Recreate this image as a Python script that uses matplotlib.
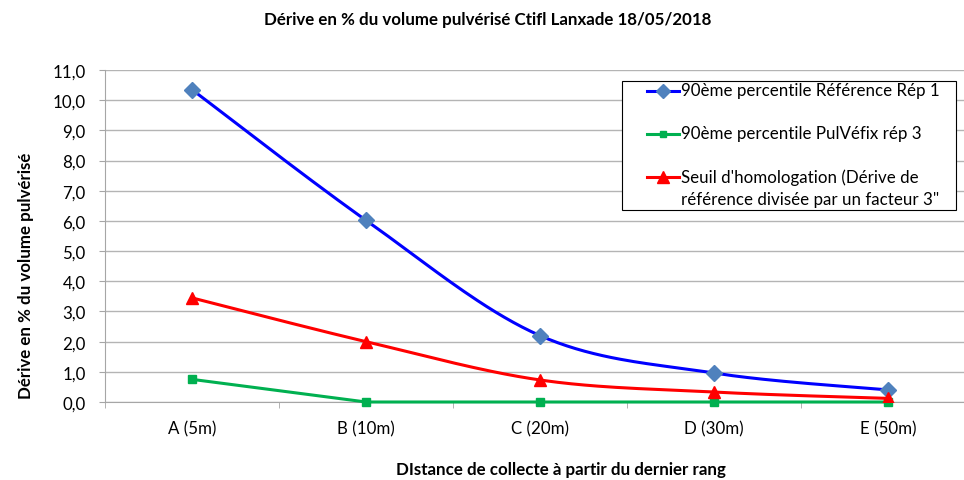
import numpy as np
import matplotlib.pyplot as plt
from matplotlib.lines import Line2D
from matplotlib.patches import Rectangle
from matplotlib.ticker import FixedLocator, FuncFormatter

plt.rcParams['font.family'] = ['Lato', 'DejaVu Sans']

categories = ['A (5m)', 'B (10m)', 'C (20m)', 'D (30m)', 'E (50m)']
ref_rep1 = [10.35, 6.02, 2.2, 0.96, 0.4]
pulvefix_rep3 = [0.75, 0.0, 0.0, 0.0, 0.0]
seuil = [3.45, 2.0, 0.73, 0.33, 0.12]

labels = ['90ème percentile Référence Rép 1',
          '90ème percentile PulVéfix rép 3',
          "Seuil d'homologation (Dérive de\nréférence divisée par un facteur 3\""]

title = 'Dérive en % du volume pulvérisé Ctifl Lanxade 18/05/2018'
xlabel = 'DIstance de collecte à partir du dernier rang'
ylabel = 'Dérive en % du volume pulvérisé'


def smooth(xs, ys, n=40):
    # excel-like smoothed line: bezier through points, catmull-rom controls
    xs = np.asarray(xs, float)
    ys = np.asarray(ys, float)
    px = np.concatenate([[xs[0]], xs, [xs[-1]]])
    py = np.concatenate([[ys[0]], ys, [ys[-1]]])
    t = np.linspace(0, 1, n)
    outx, outy = [], []
    for i in range(len(xs) - 1):
        p0 = np.array([px[i + 1], py[i + 1]])
        p3 = np.array([px[i + 2], py[i + 2]])
        c1 = p0 + (p3 - np.array([px[i], py[i]])) / 6
        c2 = p3 - (np.array([px[i + 3], py[i + 3]]) - p0) / 6
        b = ((1 - t) ** 3)[:, None] * p0 + (3 * (1 - t) ** 2 * t)[:, None] * c1 \
            + (3 * (1 - t) * t ** 2)[:, None] * c2 + (t ** 3)[:, None] * p3
        outx.extend(b[:, 0])
        outy.extend(b[:, 1])
    return outx, outy


fig = plt.figure(figsize=(9.64, 4.81), dpi=100)
ax = fig.add_axes([105 / 964, 78 / 481, 870 / 964, 332 / 481])

x = np.arange(len(categories))

blue = '#0000ff'
green = '#00b050'
red = '#ff0000'
fs = 12.2

sx, sy = smooth(x, ref_rep1)
ax.plot(sx, sy, color=blue, lw=2.2, zorder=3)
ax.plot(x, ref_rep1, ls='none', marker='D', ms=8, color='#4f81bd', zorder=4)

ax.plot(x, pulvefix_rep3, color=green, lw=2.2, marker='s', ms=5.5, zorder=3,
        clip_on=False)

sx, sy = smooth(x, seuil)
ax.plot(sx, sy, color=red, lw=2.2, zorder=3)
ax.plot(x, seuil, ls='none', marker='^', ms=8.5, color=red, zorder=4)

ax.set_xlim(-0.5, len(categories) - 0.5)
ax.set_ylim(0, 11)
ax.set_yticks(np.arange(0, 12, 1))
ax.yaxis.set_major_formatter(FuncFormatter(lambda v, p: f'{v:.1f}'.replace('.', ',')))
ax.set_xticks(x)
ax.set_xticklabels(categories)
ax.xaxis.set_minor_locator(FixedLocator(np.arange(-0.5, len(categories), 1)))

ax.grid(axis='y', color='#b4b4b4', lw=1)
ax.set_axisbelow(True)
for s in ['top', 'right']:
    ax.spines[s].set_visible(False)
for s in ['left', 'bottom']:
    ax.spines[s].set_color('#a6a6a6')
ax.tick_params(axis='y', length=4, color='#a6a6a6', pad=10, labelsize=fs)
ax.tick_params(axis='x', which='major', length=0, pad=13, labelsize=fs)
ax.tick_params(axis='x', which='minor', length=4, color='#a6a6a6')

fig.text(488 / 964, 1 - 20 / 481, title, ha='center', va='center',
         fontsize=fs, fontweight='bold')
fig.text(561 / 964, 1 - 470 / 481, xlabel, ha='center', va='center',
         fontsize=fs, fontweight='bold')
fig.text(26 / 964, 1 - 276 / 481, ylabel, ha='center', va='center',
         rotation=90, fontsize=fs, fontweight='bold')

# legend box drawn by hand to match the two-line third entry
W, H = 964, 481
fig.patches.append(Rectangle((622 / W, 1 - 211 / H), 334 / W, 129 / H,
                             transform=fig.transFigure, fill=True, facecolor='white',
                             edgecolor='black', lw=0.8, zorder=5))
rows = [92, 135, 178]
styles = [(blue, 'D', '#4f81bd', 7), (green, 's', green, 5), (red, '^', red, 8)]
for yy, lab, (lc, mk, mc, ms) in zip(rows, labels, styles):
    fy = 1 - yy / H
    fig.lines.append(Line2D([647 / W, 679 / W], [fy, fy], transform=fig.transFigure,
                            color=lc, lw=2.2, zorder=6))
    fig.lines.append(Line2D([663 / W], [fy], transform=fig.transFigure, ls='none',
                            marker=mk, ms=ms, color=mc, zorder=7))
    fig.text(681 / W, fy + 9 / H, lab, ha='left', va='top', fontsize=fs,
             linespacing=1.5, zorder=7)

fig.savefig('out.png', dpi=100)
